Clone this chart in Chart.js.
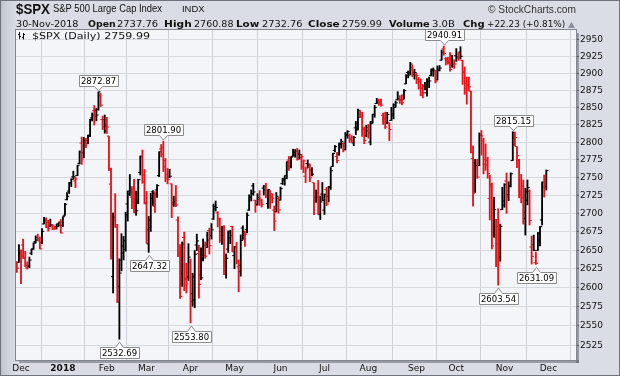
<!DOCTYPE html>
<html>
<head>
<meta charset="utf-8">
<script src="https://cdn.jsdelivr.net/npm/chart.js@4.4.1/dist/chart.umd.min.js"></script>
<style>
html,body{margin:0;padding:0;background:#d8dbe3;}
#wrap{position:relative;width:620px;height:376px;overflow:hidden;
  background:linear-gradient(to right,#a3a8b1 0,#c4c8d0 2px,#ced2da 8px,#d9dce4 16px,#dadde5 100%);}
#wrap:after{content:"";position:absolute;left:0;top:0;right:0;bottom:0;border:1px solid #6e737d;pointer-events:none;}
canvas{position:absolute;left:0;top:0;}
.t{position:absolute;white-space:nowrap;transform-origin:0 0;color:#111;line-height:1;}
.a{font-family:"Liberation Sans",Arial,sans-serif;}
.v{font-family:"DejaVu Sans",Verdana,sans-serif;}
.b{font-weight:bold;}
</style>
</head>
<body>
<div id="wrap">
  <canvas id="chart" width="620" height="376"></canvas>
  <div class="t a b" data-w="34" style="left:16px;top:2px;font-size:14px;">$SPX</div>
  <div class="t a" data-w="109" style="left:53px;top:3.5px;font-size:10px;">S&amp;P 500 Large Cap Index</div>
  <div class="t a" data-w="22.5" style="left:182px;top:4px;font-size:9.5px;">INDX</div>
  <div class="t a" data-w="88" style="left:488px;top:4.5px;font-size:10px;color:#333;">© StockCharts.com</div>
  <div id="l2"></div>
  <div class="t v" id="legend" data-w="118" style="left:31.6px;top:30.5px;font-size:9.5px;"></div>
</div>
<script>
// S&P 500 daily bars, 29-Nov-2017 .. 30-Nov-2018 (one line per month)
const prevClose = 2627.04;

const openArr = [
  2627.82, 2633.93, 2645.10, 2657.19, 2639.78, 2626.24, 2628.38, 2646.21, 2652.19, 2661.73, 2667.59, 2665.87, 2660.63, 2685.92, 2692.71, 2688.18, 2683.02, 2684.22, 2679.09, 2682.10, 2686.10, 2689.15,
  2683.73, 2697.85, 2719.31, 2731.33, 2742.67, 2751.15, 2745.55, 2752.97, 2770.18, 2798.96, 2784.99, 2802.40, 2802.60, 2809.16, 2835.05, 2845.42, 2846.24, 2847.48, 2867.23, 2832.74, 2832.41,
  2816.45, 2808.92, 2741.06, 2614.78, 2690.95, 2685.01, 2601.78, 2636.75, 2646.27, 2651.21, 2713.46, 2727.14, 2722.99, 2720.53, 2710.42, 2715.80, 2757.37, 2780.45, 2753.78,
  2715.22, 2658.89, 2681.06, 2730.18, 2710.18, 2732.75, 2752.91, 2790.54, 2792.31, 2774.06, 2754.27, 2750.57, 2741.38, 2715.05, 2714.99, 2691.36, 2646.71, 2619.35, 2667.57, 2611.30, 2614.41,
  2633.45, 2592.17, 2584.04, 2657.36, 2645.82, 2617.18, 2638.41, 2643.48, 2653.83, 2676.90, 2670.10, 2692.74, 2710.11, 2701.16, 2692.56, 2675.40, 2680.80, 2634.92, 2651.65, 2675.47, 2682.51,
  2642.96, 2654.24, 2628.08, 2621.45, 2680.34, 2670.26, 2678.12, 2705.02, 2722.70, 2738.47, 2718.59, 2712.62, 2719.71, 2717.35, 2735.39, 2738.34, 2713.98, 2730.94, 2723.60, 2705.11, 2702.43, 2720.98,
  2718.70, 2741.67, 2748.46, 2753.25, 2774.84, 2765.84, 2780.18, 2785.60, 2787.94, 2783.21, 2777.78, 2765.79, 2752.01, 2769.73, 2769.28, 2760.79, 2742.94, 2722.12, 2728.45, 2698.69, 2727.13,
  2704.95, 2733.27, 2724.19, 2737.68, 2765.79, 2788.56, 2779.82, 2783.14, 2796.93, 2798.43, 2789.34, 2811.35, 2809.37, 2804.55, 2799.17, 2820.68, 2817.73, 2835.49, 2842.35, 2819.00, 2809.73,
  2821.17, 2800.48, 2829.62, 2840.29, 2855.92, 2856.79, 2857.19, 2838.90, 2835.46, 2827.88, 2827.95, 2831.44, 2838.32, 2853.93, 2861.51, 2860.99, 2860.29, 2862.35, 2884.69, 2901.45, 2900.62, 2908.94, 2898.37,
  2896.96, 2891.59, 2888.64, 2868.26, 2881.39, 2871.57, 2888.29, 2896.85, 2906.38, 2903.83, 2890.74, 2906.60, 2919.73, 2936.76, 2921.83, 2921.75, 2916.98, 2911.65, 2910.03,
  2926.29, 2923.80, 2931.69, 2919.35, 2902.54, 2877.53, 2882.51, 2873.90, 2776.87, 2770.54, 2763.83, 2767.05, 2811.67, 2802.00, 2775.66, 2773.94, 2721.03, 2737.87, 2674.88, 2667.86, 2682.65, 2640.68, 2705.60,
  2717.58, 2745.45, 2726.37, 2738.40, 2774.13, 2806.38, 2794.10, 2773.93, 2730.05, 2737.90, 2693.52, 2718.54, 2730.74, 2654.60, 2657.74, 2633.36, 2649.97, 2663.75, 2691.45, 2736.97, 2737.76
];

const highArr = [
  2634.89, 2657.74, 2650.62, 2665.19, 2648.72, 2634.41, 2640.99, 2651.65, 2660.33, 2669.72, 2671.88, 2668.09, 2679.63, 2694.97, 2694.44, 2691.01, 2692.64, 2685.35, 2682.74, 2685.64, 2687.66, 2692.12,
  2695.89, 2714.37, 2729.29, 2743.45, 2748.51, 2759.14, 2750.80, 2767.56, 2787.85, 2807.54, 2807.04, 2805.83, 2810.33, 2833.03, 2842.24, 2852.97, 2848.56, 2872.87, 2870.62, 2837.75, 2839.26,
  2835.96, 2808.92, 2763.39, 2701.04, 2727.67, 2685.27, 2638.67, 2672.61, 2668.84, 2702.10, 2731.51, 2754.42, 2737.60, 2747.75, 2731.26, 2747.76, 2780.64, 2789.15, 2761.52,
  2730.89, 2696.25, 2728.09, 2732.08, 2730.60, 2740.45, 2786.57, 2796.98, 2801.90, 2777.11, 2763.03, 2761.85, 2741.38, 2724.22, 2739.14, 2695.68, 2657.67, 2661.36, 2674.78, 2632.65, 2659.07,
  2638.30, 2619.14, 2649.86, 2672.08, 2656.88, 2653.55, 2665.45, 2661.43, 2674.72, 2680.26, 2686.49, 2713.34, 2717.49, 2702.84, 2693.94, 2682.86, 2683.55, 2645.30, 2676.48, 2677.35, 2682.87,
  2655.27, 2660.87, 2637.14, 2670.93, 2683.35, 2676.34, 2701.27, 2726.11, 2732.86, 2742.10, 2718.59, 2727.76, 2731.96, 2719.50, 2739.19, 2742.24, 2733.33, 2731.97, 2727.36, 2710.67, 2729.34, 2722.50,
  2736.93, 2749.16, 2752.61, 2772.39, 2779.90, 2779.39, 2790.21, 2789.80, 2791.47, 2789.06, 2782.81, 2774.99, 2765.05, 2774.86, 2769.28, 2764.17, 2742.94, 2732.91, 2746.09, 2724.34, 2743.26,
  2727.26, 2736.58, 2737.83, 2764.41, 2784.65, 2795.58, 2785.91, 2799.22, 2804.53, 2799.41, 2814.19, 2816.76, 2812.05, 2809.70, 2808.61, 2829.99, 2848.03, 2845.57, 2843.17, 2821.74, 2824.46,
  2825.83, 2829.91, 2840.38, 2853.29, 2863.43, 2862.44, 2862.48, 2842.20, 2843.40, 2843.11, 2827.95, 2850.49, 2855.63, 2859.76, 2873.23, 2867.54, 2868.78, 2876.16, 2898.25, 2903.77, 2916.50, 2912.46, 2906.32,
  2900.18, 2894.21, 2892.05, 2883.81, 2886.93, 2892.52, 2894.65, 2906.76, 2908.30, 2904.65, 2911.17, 2911.79, 2934.80, 2940.91, 2923.79, 2923.95, 2931.15, 2927.22, 2920.53,
  2937.06, 2931.42, 2939.86, 2919.78, 2909.64, 2894.83, 2894.83, 2874.02, 2795.14, 2775.77, 2775.99, 2813.46, 2816.94, 2806.04, 2797.77, 2778.94, 2753.59, 2742.59, 2722.70, 2692.38, 2706.85, 2685.43, 2736.69,
  2741.67, 2756.55, 2744.27, 2756.82, 2815.15, 2814.75, 2794.10, 2775.99, 2754.60, 2746.80, 2735.38, 2746.75, 2733.16, 2669.44, 2670.73, 2647.55, 2674.35, 2682.53, 2744.00, 2753.75, 2760.88
];

const lowArr = [
  2620.32, 2633.93, 2605.52, 2639.03, 2627.73, 2624.75, 2626.53, 2644.10, 2651.47, 2659.78, 2662.85, 2652.01, 2659.14, 2685.92, 2680.74, 2676.11, 2682.40, 2678.13, 2677.96, 2678.91, 2682.69, 2673.61,
  2682.36, 2697.77, 2719.07, 2727.92, 2737.60, 2747.86, 2736.06, 2752.78, 2769.64, 2768.64, 2778.38, 2792.56, 2798.08, 2808.12, 2830.59, 2824.81, 2830.94, 2846.18, 2851.48, 2818.27, 2813.04,
  2812.70, 2759.97, 2638.17, 2593.07, 2681.33, 2580.56, 2532.69, 2622.45, 2637.08, 2648.87, 2689.82, 2725.11, 2706.76, 2701.29, 2697.77, 2713.74, 2753.78, 2742.10, 2713.54,
  2659.65, 2647.32, 2675.75, 2711.26, 2701.74, 2722.65, 2751.54, 2779.26, 2758.68, 2744.38, 2741.47, 2749.97, 2694.59, 2710.05, 2709.79, 2641.59, 2585.89, 2601.81, 2596.12, 2593.06, 2609.72,
  2553.80, 2575.49, 2573.61, 2649.58, 2586.27, 2610.79, 2635.78, 2639.25, 2653.83, 2645.05, 2665.16, 2692.05, 2703.63, 2681.90, 2660.61, 2657.99, 2617.32, 2612.67, 2647.16, 2659.01, 2648.04,
  2625.41, 2631.70, 2594.62, 2615.32, 2664.70, 2655.20, 2674.14, 2704.54, 2717.45, 2725.47, 2701.91, 2712.17, 2711.36, 2709.18, 2725.70, 2721.88, 2707.38, 2707.38, 2714.99, 2676.81, 2702.43, 2700.68,
  2718.70, 2740.54, 2739.51, 2748.46, 2760.16, 2763.59, 2780.17, 2778.78, 2774.65, 2776.52, 2761.73, 2757.12, 2743.19, 2763.91, 2744.39, 2752.68, 2698.67, 2715.60, 2699.38, 2691.99, 2718.03,
  2698.95, 2711.16, 2716.02, 2733.52, 2765.79, 2786.24, 2770.77, 2781.53, 2791.69, 2786.42, 2789.24, 2805.89, 2799.77, 2800.01, 2795.14, 2811.12, 2817.73, 2835.26, 2808.34, 2798.11, 2808.06,
  2805.85, 2796.34, 2827.37, 2835.98, 2855.92, 2853.09, 2851.98, 2825.81, 2819.88, 2826.58, 2802.49, 2831.44, 2833.73, 2850.62, 2861.32, 2856.05, 2854.03, 2862.35, 2884.69, 2893.50, 2898.40, 2895.22, 2891.73,
  2885.13, 2876.92, 2867.29, 2864.12, 2875.94, 2866.78, 2879.20, 2896.39, 2895.77, 2886.16, 2890.43, 2903.77, 2919.73, 2927.11, 2912.63, 2913.70, 2903.28, 2909.27, 2907.50,
  2917.91, 2919.37, 2921.36, 2883.92, 2869.29, 2855.04, 2874.27, 2784.86, 2710.51, 2729.44, 2749.03, 2766.91, 2781.81, 2755.18, 2760.27, 2749.22, 2691.43, 2651.89, 2667.84, 2628.16, 2603.54, 2635.34, 2705.60,
  2708.85, 2700.44, 2717.94, 2737.08, 2774.13, 2794.99, 2764.24, 2722.00, 2714.98, 2685.75, 2670.75, 2712.16, 2684.45, 2631.52, 2649.82, 2631.09, 2649.97, 2655.89, 2684.38, 2722.94, 2732.76
];

const closeArr = [
  2626.07, 2647.58, 2642.22, 2639.44, 2629.57, 2629.27, 2636.98, 2651.50, 2659.99, 2664.11, 2662.85, 2652.01, 2675.81, 2690.16, 2681.47, 2679.25, 2684.57, 2683.34, 2680.50, 2682.62, 2687.54, 2673.61,
  2695.81, 2713.06, 2723.99, 2743.15, 2747.71, 2751.29, 2748.23, 2767.56, 2786.24, 2776.42, 2802.56, 2798.03, 2810.30, 2832.97, 2839.13, 2837.54, 2839.25, 2872.87, 2853.53, 2822.43, 2823.81,
  2821.98, 2762.13, 2648.94, 2695.14, 2681.66, 2581.00, 2619.55, 2656.00, 2662.94, 2698.63, 2731.20, 2732.22, 2716.26, 2701.33, 2703.96, 2747.30, 2779.60, 2744.28, 2713.83,
  2677.67, 2691.25, 2720.94, 2728.12, 2726.80, 2738.97, 2786.57, 2783.02, 2765.31, 2749.48, 2747.33, 2752.01, 2712.92, 2716.94, 2711.93, 2643.69, 2588.26, 2658.55, 2612.62, 2605.00, 2640.87,
  2581.88, 2614.45, 2644.69, 2662.84, 2604.47, 2613.16, 2656.87, 2642.19, 2663.99, 2656.30, 2677.84, 2706.39, 2708.64, 2693.13, 2670.14, 2670.29, 2634.56, 2639.40, 2666.94, 2669.91, 2648.05,
  2654.80, 2635.67, 2629.73, 2663.42, 2672.63, 2671.92, 2697.79, 2723.07, 2727.72, 2730.13, 2711.45, 2722.46, 2720.13, 2712.97, 2733.01, 2724.44, 2733.29, 2727.76, 2721.33, 2689.86, 2724.01, 2705.27,
  2734.62, 2746.87, 2748.80, 2772.35, 2770.37, 2779.03, 2782.00, 2786.85, 2775.63, 2782.49, 2779.66, 2773.75, 2762.59, 2767.32, 2749.76, 2754.88, 2717.07, 2723.06, 2699.63, 2716.31, 2718.37,
  2726.71, 2713.22, 2736.61, 2759.82, 2784.17, 2793.84, 2774.02, 2798.29, 2801.31, 2798.43, 2809.55, 2815.62, 2804.49, 2801.83, 2806.98, 2820.40, 2846.07, 2837.44, 2818.82, 2802.60, 2816.29,
  2813.36, 2827.22, 2840.35, 2850.40, 2858.45, 2857.70, 2853.58, 2833.28, 2821.93, 2839.96, 2818.37, 2840.69, 2850.13, 2857.05, 2862.96, 2861.82, 2856.98, 2874.69, 2896.74, 2897.52, 2914.04, 2901.13, 2901.52,
  2896.72, 2888.60, 2878.05, 2871.68, 2877.13, 2887.89, 2888.92, 2904.18, 2904.98, 2888.80, 2904.31, 2907.95, 2930.75, 2929.67, 2919.37, 2915.56, 2905.97, 2914.00, 2913.98,
  2924.59, 2923.43, 2925.51, 2901.61, 2885.57, 2884.43, 2880.34, 2785.68, 2728.37, 2767.13, 2750.79, 2809.92, 2809.21, 2768.78, 2767.78, 2755.88, 2740.69, 2656.10, 2705.57, 2658.69, 2641.25, 2682.63, 2711.74,
  2740.37, 2723.06, 2738.31, 2755.45, 2813.89, 2806.83, 2781.01, 2726.22, 2722.18, 2701.58, 2730.20, 2736.27, 2690.73, 2641.89, 2649.93, 2632.56, 2673.45, 2682.17, 2743.79, 2737.76, 2759.99
];

// first trading day of each month (bar index) and its axis label
const monthIdx = [2, 22, 43, 62, 83, 104, 126, 147, 168, 191, 210, 233, 254];
const monthLabels = ["Dec", "2018", "Feb", "Mar", "Apr", "May", "Jun", "Jul", "Aug", "Sep", "Oct", "Nov", "Dec"];
const yTicks = [2525, 2550, 2575, 2600, 2625, 2650, 2675, 2700, 2725, 2750, 2775, 2800, 2825, 2850, 2875, 2900, 2925, 2950];

// bars that get a value flag above (peaks) or below (troughs)
const peakIdx = [39, 70, 204, 237];
const troughIdx = [49, 63, 83, 230, 248];

const volumeText = "3.0B";
const dateText = "30-Nov-2018";

// --- header texts built from the last bar
const last = closeArr.length - 1;
const chg = closeArr[last] - closeArr[last - 1];
const chgPct = chg / closeArr[last - 1] * 100;
const f2 = v => v.toFixed(2);
const line2 = [
  [dateText, false, 15.8, 62.5],
  ["Open", true, 87.7, 27.7], [f2(openArr[last]), false, 117.4, 41],
  ["High", true, 164, 27.7], [f2(highArr[last]), false, 193.7, 39.5],
  ["Low", true, 236.4, 23.3], [f2(lowArr[last]), false, 262, 40.4],
  ["Close", true, 308.3, 31.7], [f2(closeArr[last]), false, 342.3, 39.9],
  ["Volume", true, 389.3, 40.7], [volumeText, false, 431.6, 22.9],
  ["Chg", true, 462.5, 21.7], [(chg >= 0 ? "+" : "") + f2(chg) + " (" + (chg >= 0 ? "+" : "") + f2(chgPct) + "%)", false, 487, 78.2],
  [chg >= 0 ? "▲" : "▼", false, 567.5, 7]
];
const l2 = document.getElementById("l2");
line2.forEach(([txt, bold, left, w]) => {
  const d = document.createElement("div");
  d.className = "t v" + (bold ? " b" : "");
  d.textContent = txt;
  d.dataset.w = w;
  d.style.left = left + "px";
  d.style.top = "18.8px";
  d.style.fontSize = "9.5px";
  if (txt === "▲" || txt === "▼") { d.style.color = "#8a8f99"; d.style.fontSize = "8px"; d.style.top = "20.5px"; }
  l2.appendChild(d);
});
document.getElementById("legend").textContent = "$SPX (Daily) " + f2(closeArr[last]);

// squeeze/stretch each text to the width it has in the original
document.querySelectorAll(".t[data-w]").forEach(el => {
  const w = el.getBoundingClientRect().width;
  if (w > 0) el.style.transform = "scaleX(" + (parseFloat(el.dataset.w) / w) + ")";
});

// --- chart
const idx = closeArr.map((_, i) => i);
const barColor = closeArr.map((c, i) => c < (i ? closeArr[i - 1] : prevClose) ? "#e8141b" : "#000000");

const plotFrame = {
  id: "plotFrame",
  beforeDraw(chart) {
    const {ctx, chartArea: a} = chart;
    ctx.save();
    ctx.fillStyle = "rgba(70,75,85,0.45)";
    ctx.fillRect(a.right, a.top + 3, 3, a.bottom - a.top);
    ctx.fillRect(a.left + 3, a.bottom, a.right - a.left, 3);
    ctx.fillStyle = "#f4f5f9";
    ctx.fillRect(a.left, a.top, a.right - a.left, a.bottom - a.top);
    ctx.restore();
  },
  afterDraw(chart) {
    const {ctx, chartArea: a} = chart;
    ctx.save();
    ctx.strokeStyle = "#80858e";
    ctx.lineWidth = 1;
    ctx.strokeRect(a.left - 0.5, a.top - 0.5, a.right - a.left + 1, a.bottom - a.top + 1);
    // little bar icon in front of the legend text
    ctx.strokeStyle = "#111";
    ctx.beginPath();
    ctx.moveTo(19.5, 32); ctx.lineTo(19.5, 39);
    ctx.moveTo(18, 34.5); ctx.lineTo(19.5, 34.5);
    ctx.moveTo(19.5, 36.5); ctx.lineTo(21, 36.5);
    ctx.moveTo(23.5, 33); ctx.lineTo(23.5, 39.5);
    ctx.moveTo(22, 37.5); ctx.lineTo(23.5, 37.5);
    ctx.moveTo(23.5, 34.5); ctx.lineTo(25, 34.5);
    ctx.stroke();
    ctx.restore();
  }
};

const flags = {
  id: "flags",
  afterDatasetsDraw(chart) {
    const {ctx, scales: {x, y}} = chart;
    ctx.save();
    ctx.font = '8.5px "DejaVu Sans"';
    ctx.textAlign = "center";
    ctx.textBaseline = "middle";
    ctx.lineWidth = 1;
    const draw = (i, v, above) => {
      const px = Math.round(x.getPixelForValue(i)) + 0.5;
      const py = y.getPixelForValue(v);
      const txt = f2(v);
      const w = Math.round(ctx.measureText(txt).width) + 4, h = 11;
      const l = Math.round(px - w / 2) + 0.5, r = l + w;
      const tip = above ? py - 1 : py + 3;
      const edge = above ? Math.round(py - 6) + 0.5 : Math.round(py + 8) + 0.5;
      const far = above ? edge - h : edge + h;
      ctx.beginPath();
      ctx.moveTo(l, far); ctx.lineTo(r, far); ctx.lineTo(r, edge);
      ctx.lineTo(px + 4, edge); ctx.lineTo(px, tip); ctx.lineTo(px - 4, edge);
      ctx.lineTo(l, edge); ctx.closePath();
      ctx.fillStyle = "#ffffff"; ctx.fill();
      ctx.strokeStyle = "#8c8c8c"; ctx.stroke();
      ctx.fillStyle = "#000";
      ctx.fillText(txt, px, (far + edge) / 2 + 0.5);
    };
    peakIdx.forEach(i => draw(i, highArr[i], true));
    troughIdx.forEach(i => draw(i, lowArr[i], false));
    ctx.restore();
  }
};

new Chart(document.getElementById("chart"), {
  type: "bar",
  data: {
    datasets: [
      {
        type: "bar",
        data: idx.map(i => ({x: i, y: [lowArr[i], highArr[i]]})),
        backgroundColor: barColor,
        borderWidth: 0,
        barThickness: 1.2,
        grouped: false
      },
      {
        type: "scatter",
        data: idx.map(i => ({x: i - 0.55, y: openArr[i]})),
        pointStyle: "line",
        pointRadius: 1.1,
        pointBorderWidth: 1,
        borderColor: barColor,
        pointBorderColor: barColor
      },
      {
        type: "scatter",
        data: idx.map(i => ({x: i + 0.55, y: closeArr[i]})),
        pointStyle: "line",
        pointRadius: 1.1,
        pointBorderWidth: 1,
        borderColor: barColor,
        pointBorderColor: barColor
      }
    ]
  },
  options: {
    responsive: false,
    animation: false,
    events: [],
    layout: {padding: {left: 16, top: 30, right: 0, bottom: 0}},
    plugins: {legend: {display: false}, tooltip: {enabled: false}},
    scales: {
      x: {
        type: "linear", min: -0.4, max: 267.2, offset: false,
        afterBuildTicks: s => { s.ticks = monthIdx.map(v => ({value: v})); },
        afterFit: s => { s.height = 16; },
        grid: {color: "#cdd0d7", drawTicks: false},
        border: {display: false},
        ticks: {
          autoSkip: false, maxRotation: 0, padding: 3, color: "#111",
          font: c => ({family: "DejaVu Sans", size: 9, weight: c.index === 1 ? "bold" : "normal"}),
          callback: v => monthLabels[monthIdx.indexOf(v)]
        }
      },
      y: {
        type: "logarithmic", position: "right", min: 2506, max: 2965,
        afterBuildTicks: s => { s.ticks = yTicks.map(v => ({value: v})); },
        afterFit: s => { s.width = 44; },
        grid: {color: "#d6d9df", tickLength: 3, tickColor: "#555"},
        border: {display: false},
        ticks: {padding: 1, color: "#111", font: {family: "DejaVu Sans", size: 9}, callback: v => String(v)}
      }
    }
  },
  plugins: [plotFrame, flags]
});
</script>
</body>
</html>
